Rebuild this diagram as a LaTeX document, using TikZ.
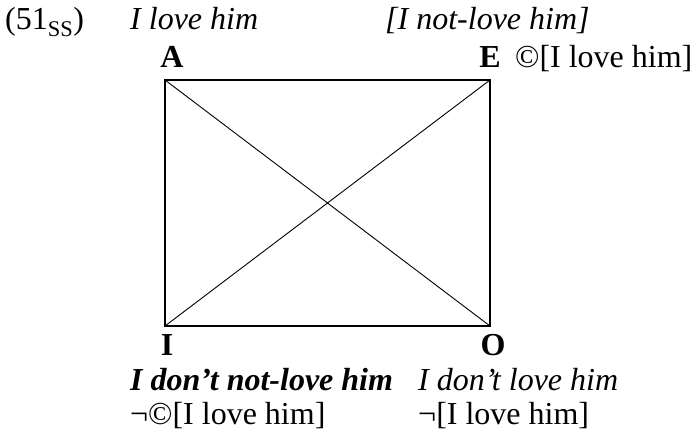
\documentclass[tikz,border=0pt]{standalone}
\usepackage{fontspec}
\setmainfont{Liberation Serif}
\usepackage{tikz}

\begin{document}
\begin{tikzpicture}[x=1pt, y=-1pt, every node/.style={font=\fontsize{32}{37}\selectfont, inner sep=0pt},
    lbl/.style={anchor=base west}, corner/.style={anchor=base, font=\fontsize{32}{37}\selectfont\bfseries}]
            \useasboundingbox (0,0) rectangle (697,436);
            % corners of the square
            \coordinate (cA) at (165,80);
            \coordinate (cE) at (490,80);
            \coordinate (cI) at (165,326);
            \coordinate (cO) at (490,326);
            \draw[line width=1.3pt] (cA) -- (cE) -- (cO) -- (cI) -- cycle;
            \draw[line width=0.9pt] (cA) -- (cO);
            \draw[line width=0.9pt] (cI) -- (cE);
            % top line
            \node[lbl] (num) at (5,30) {(51\textsubscript{SS})};
            \node[lbl] (tA) at (130,30) {\itshape I love him};
            \node[lbl] (tE) at (385,30) {\itshape [I not-love him]};
            \node[corner] (A) at (172,68) {A};
            \node[corner] (E) at (490,68) {E};
            \node[lbl] (fE) at (515,68) {©[I love him]};
            % bottom lines
            \node[corner] (I) at (167,355) {I};
            \node[corner] (O) at (493,355) {O};
            \node[lbl] (tI) at (130,390) {\bfseries\itshape I don’t not-love him};
            \node[lbl] (fI) at (130,424) {¬©[I love him]};
            \node[lbl] (tO) at (418,390) {\itshape I don’t love him};
            \node[lbl] (fO) at (418,424) {¬[I love him]};
        \end{tikzpicture}
\end{document}
